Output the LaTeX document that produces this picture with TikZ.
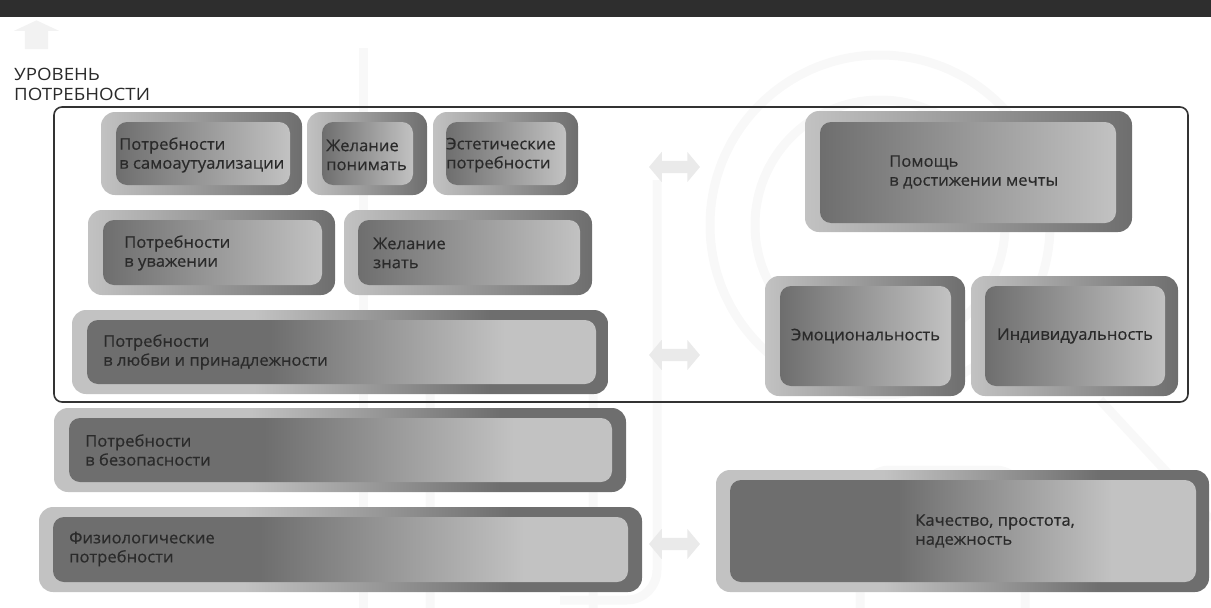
\documentclass[tikz,border=0pt]{standalone}
\usepackage{fontspec}
\setmainfont{Open Sans}
\newfontfamily\boxfont{Open Sans}[FakeBold=0.5, FakeStretch=1.04]
\newfontfamily\capsfont{Open Sans}[FakeStretch=1.1]
\usetikzlibrary{shapes.arrows}
\definecolor{txt}{HTML}{2A2A2A}
\definecolor{band}{HTML}{2E2E2E}
\definecolor{pale}{HTML}{EAEAEA}
\definecolor{wmark}{HTML}{F8F8F8}
\definecolor{lite}{HTML}{C2C2C2}
\definecolor{dark}{HTML}{6E6E6E}
\pgfdeclarehorizontalshading{ringwide}{100bp}{color(0bp)=(lite); color(42bp)=(lite); color(64bp)=(dark); color(100bp)=(dark)}
\pgfdeclarehorizontalshading{corewide}{100bp}{color(0bp)=(dark); color(43bp)=(dark); color(66bp)=(lite); color(100bp)=(lite)}
\tikzstyle{ring} = [rounded corners=14pt, left color=lite, right color=dark]
\tikzstyle{core} = [rounded corners=11pt, left color=dark, right color=lite]
\tikzstyle{ringw} = [rounded corners=14pt, shading=ringwide]
\tikzstyle{corew} = [rounded corners=11pt, shading=corewide]
\tikzstyle{lbl} = [anchor=west, align=left, text=txt, inner sep=0pt, font=\boxfont\fontsize{16}{19}\selectfont]
\tikzstyle{dbl} = [double arrow, fill=pale, minimum height=51pt, inner sep=6pt, outer sep=0pt, double arrow head extend=9pt, double arrow tip angle=100]

\begin{document}
\begin{tikzpicture}[x=1pt, y=-1pt]
    \useasboundingbox (0,0) rectangle (1211,608);
    % faint logo behind
    \begin{scope}[draw=wmark, line width=9pt, rounded corners=30pt]
      \draw (363,48) -- (363,640);
      \draw (657,180) -- (657,600) -- (560,600);
      \draw (430,640) -- (430,330) -- (593,330) -- (593,640);
      \draw (880,225) circle [radius=170];
      \draw (880,225) circle [radius=125];
      \draw (860,640) -- (860,470) -- (1025,470) -- (1025,640);
      \draw (1100,400) -- (1211,520);
    \end{scope}
    \fill[band] (0,0) rectangle (1211,17);
    \node[single arrow, fill=pale!60!white, rotate=90, minimum height=25pt, inner sep=11.5pt, outer sep=0pt,
      single arrow head extend=11pt, single arrow tip angle=130] (up) at (36.5,37.5) {};
    \node[anchor=west, align=left, text=txt, inner sep=0pt, font=\capsfont\fontsize{17}{20}\selectfont] (level) at (14,84) {УРОВЕНЬ\\ПОТРЕБНОСТИ};
    \draw[line width=1.6pt, black!80, rounded corners=8pt] (54,107) rectangle (1188,402);

    % left column
    \shade[ring] (101,112) rectangle (302,195);
    \shade[core] (116,122) rectangle (290,185);
    \node[lbl] (selfact) at (119,155) {Потребности\\в самоаутуализации};
    \shade[ring] (307,112) rectangle (427,195);
    \shade[core] (322,122) rectangle (413,185);
    \node[lbl] (understand) at (326,155) {Желание\\понимать};
    \shade[ring] (433,112) rectangle (578,195);
    \shade[core] (446,122) rectangle (566,185);
    \node[lbl] (aesthetic) at (446,155) {Эстетические\\потребности};
    \shade[ring] (88,210) rectangle (335,295);
    \shade[core] (103,220) rectangle (322,285);
    \node[lbl] (esteem) at (124,253) {Потребности\\в уважении};
    \shade[ring] (344,210) rectangle (592,295);
    \shade[core] (358,220) rectangle (580,285);
    \node[lbl] (knowing) at (373,253) {Желание\\знать};
    \shade[ringw] (72,310) rectangle (608,394);
    \shade[corew] (87,320) rectangle (596,384);
    \node[lbl] (love) at (103,352) {Потребности\\в любви и принадлежности};
    \shade[ringw] (54,408) rectangle (626,492);
    \shade[corew] (69,418) rectangle (612,482);
    \node[lbl] (safety) at (85,450) {Потребности\\в безопасности};
    \shade[ringw] (39,507) rectangle (642,592);
    \shade[corew] (53,517) rectangle (628,582);
    \node[lbl] (physio) at (69,549) {Физиологические\\потребности};

    % right column
    \shade[ring] (805,111) rectangle (1132,232);
    \shade[core] (820,122) rectangle (1116,223);
    \node[lbl] (dream) at (889,172) {Помощь\\в достижении мечты};
    \shade[ring] (765,276) rectangle (965,396);
    \shade[core] (780,286) rectangle (951,386);
    \node[lbl, anchor=center] (emotion) at (865.5,336) {Эмоциональность};
    \shade[ring] (971,276) rectangle (1178,396);
    \shade[core] (985,286) rectangle (1165,386);
    \node[lbl, anchor=center] (individ) at (1075,336) {Индивидуальность};
    \shade[ringw] (716,470) rectangle (1209,592);
    \shade[corew] (730,480) rectangle (1196,582);
    \node[lbl] (quality) at (915,531) {Качество, простота,\\надежность};

    \node[dbl] (arrTop) at (674.5,167) {};
    \node[dbl] (arrMid) at (674.5,355) {};
    \node[dbl] (arrLow) at (674.5,544) {};
\end{tikzpicture}
\end{document}
